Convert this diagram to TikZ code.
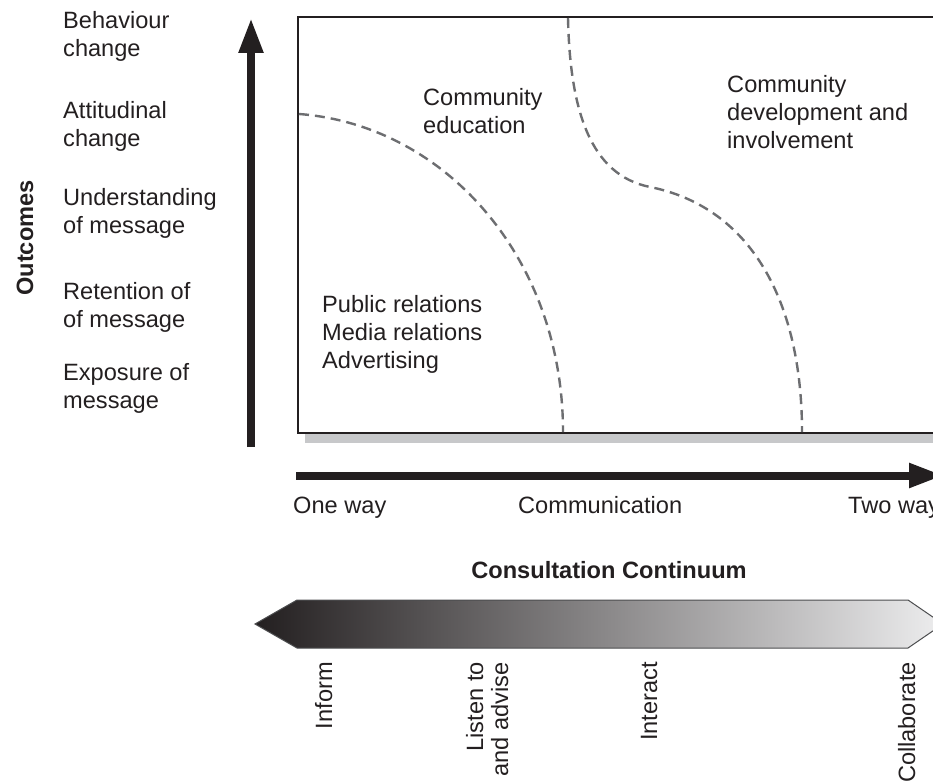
\documentclass[tikz,border=0pt]{standalone}
\usepackage{fontspec}
\setmainfont{Liberation Sans}
\usepackage{tikz}
\usetikzlibrary{positioning}
\usetikzlibrary{arrows.meta}
\definecolor{inkblack}{HTML}{231F20}
\definecolor{dashgrey}{HTML}{6D6E71}
\definecolor{shadowgrey}{HTML}{C7C8CA}
\definecolor{paleend}{HTML}{EDEDEE}

\begin{document}
\begin{tikzpicture}[x=1pt, y=-1pt,
    txt/.style={font=\fontsize{23.6}{28}\selectfont, text=inkblack, inner sep=0pt, align=left, anchor=base west},
    boldtxt/.style={txt, font=\fontsize{23.6}{28}\selectfont\bfseries, anchor=base},
    axisarrow/.style={draw=inkblack, line width=8pt, -{Triangle[length=35pt, width=23pt]}},
    boundary/.style={draw=dashgrey, line width=2.4pt, dash pattern=on 10pt off 6pt},
    steplabel/.style={txt, rotate=90, anchor=base east, align=right}]
        \useasboundingbox (0,0) rectangle (933,781);
        \clip (0,0) rectangle (933,781);

        % outcome levels (base = last line)
        \node[txt]    (behaviour)    at (63,57)  {Behaviour\\change};
        \node[txt]    (attitude)     at (63,146) {Attitudinal\\change};
        \node[txt]    (understand)   at (63,233) {Understanding\\of message};
        \node[txt]    (retention)    at (63,327) {Retention of\\of message};
        \node[txt]    (exposure)     at (63,408) {Exposure of\\message};
        \node[boldtxt, rotate=90] (outcomes) at (33,238) {Outcomes};

        % axes
        \coordinate (ybase) at (251,447);
        \coordinate (ytip)  at (251,18);
        \coordinate (xbase) at (296,475.5);
        \coordinate (xtip)  at (944,475.5);
        \draw[axisarrow] (ybase) -- (ytip);
        \draw[axisarrow] (xbase) -- (xtip);

        % field with shadow
        \fill[shadowgrey] (305,27) rectangle (960,443);
        \draw[inkblack, line width=2.5pt, fill=white] (298,17) rectangle (960,433);

        \draw[boundary] (299,114) .. controls (445,125) and (563,258) .. (563,432);
        \draw[boundary] (568,18) .. controls (570,110) and (590,175) .. (650,187)
                                 .. controls (750,207) and (802,300) .. (802,432);

        \node[txt]    (education)    at (423,133) {Community\\education};
        \node[txt]    (development)  at (727,148) {Community\\development and\\involvement};
        \node[txt]    (publicity)    at (322,368) {Public relations\\Media relations\\Advertising};

        \node[txt]    (oneway)       at (293,513) {One way};
        \node[txt]    (communic)     at (518,513) {Communication};
        \node[txt]    (twoway)       at (848,513) {Two way};

        % consultation continuum
        \node[boldtxt] (continuum)   at (609,578) {Consultation Continuum};
        \path[draw=dashgrey!70!black, line width=1pt, left color=inkblack, middle color=black!60, right color=paleend]
            (255,624) -- (297,600) -- (908,600) -- (943,624) -- (908,648) -- (297,648) -- cycle;

        \node[steplabel] (inform)      at (332,662) {Inform};
        \node[steplabel, font=\fontsize{23.6}{25}\selectfont] (listen) at (508,662) {Listen to\\and advise};
        \node[steplabel] (interact)    at (657,662) {Interact};
        \node[steplabel] (collab)      at (915,662) {Collaborate};
    \end{tikzpicture}
\end{document}
